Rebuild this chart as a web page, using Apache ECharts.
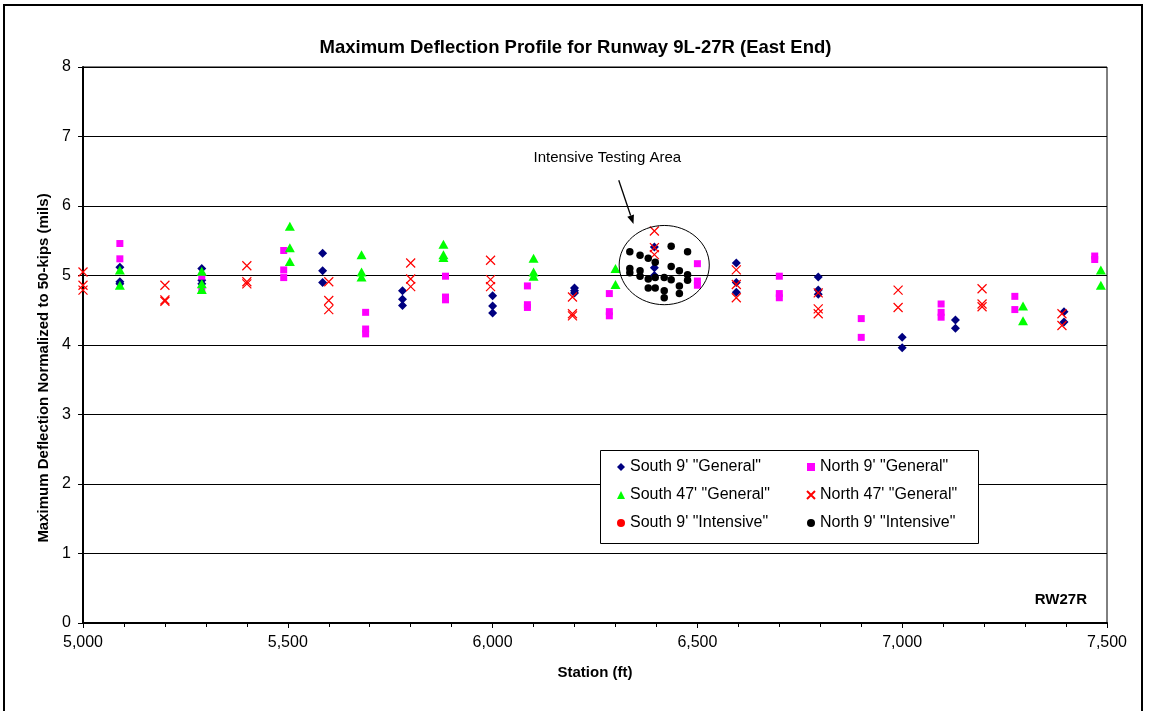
<!DOCTYPE html>
<html>
<head>
<meta charset="utf-8">
<script src="https://cdn.jsdelivr.net/npm/echarts@6/dist/echarts.min.js"></script>
<style>
html,body{margin:0;padding:0;background:#fff;}
#chart{width:1151px;height:711px;}
</style>
</head>
<body>
<div id="chart"></div>
<script>
// ---- Data (station ft, max deflection mils) ----
var xTicks = [5000, 5500, 6000, 6500, 7000, 7500];
var yTicks = [0, 1, 2, 3, 4, 5, 6, 7, 8];

var south9General = [
  [5090,5.12],[5090,4.91],[5090,4.88],
  [5290,5.10],[5290,4.93],[5290,4.88],
  [5585,5.32],[5585,5.07],[5585,4.90],
  [5780,4.78],[5780,4.66],[5780,4.57],
  [6000,4.71],[6000,4.56],[6000,4.46],
  [6200,4.82],[6200,4.78],[6200,4.75],
  [6395,5.41],[6395,5.11],[6395,5.00],
  [6595,5.18],[6595,4.90],[6595,4.76],
  [6795,4.98],[6795,4.79],[6795,4.73],
  [7000,4.11],[7000,3.96],
  [7130,4.36],[7130,4.24],
  [7395,4.48],[7395,4.33]
];
var north9General = [
  [5090,5.46],[5090,5.24],
  [5290,4.99],[5290,4.79],
  [5490,5.36],[5490,5.08],[5490,4.97],
  [5690,4.47],[5690,4.23],[5690,4.16],
  [5885,4.99],[5885,4.69],[5885,4.65],
  [6085,4.85],[6085,4.58],[6085,4.54],
  [6285,4.74],[6285,4.48],[6285,4.42],
  [6500,5.17],[6500,4.92],[6500,4.86],
  [6700,4.99],[6700,4.74],[6700,4.68],
  [6900,4.38],[6900,4.11],
  [7095,4.59],[7095,4.47],[7095,4.40],
  [7275,4.70],[7275,4.51],
  [7470,5.28],[7470,5.23]
];
var south47General = [
  [5090,5.08],[5090,4.86],
  [5290,5.06],[5290,4.88],[5290,4.80],
  [5505,5.71],[5505,5.40],[5505,5.20],
  [5680,5.30],[5680,5.05],[5680,4.98],
  [5880,5.45],[5880,5.30],[5880,5.26],
  [6100,5.25],[6100,5.05],[6100,4.99],
  [6300,5.10],[6300,4.87],
  [7295,4.56],[7295,4.35],
  [7485,5.08],[7485,4.86]
];
var north47General = [
  [5000,5.05],[5000,4.86],[5000,4.79],
  [5200,4.86],[5200,4.65],[5200,4.63],
  [5400,5.14],[5400,4.91],[5400,4.88],
  [5600,4.91],[5600,4.64],[5600,4.51],
  [5800,5.18],[5800,4.95],[5800,4.84],
  [5995,5.22],[5995,4.94],[5995,4.84],
  [6195,4.69],[6195,4.45],[6195,4.42],
  [6395,5.64],[6395,5.40],[6395,5.30],
  [6595,5.08],[6595,4.87],[6595,4.68],
  [6795,4.75],[6795,4.52],[6795,4.45],
  [6990,4.79],[6990,4.54],
  [7195,4.81],[7195,4.59],[7195,4.55],
  [7390,4.45],[7390,4.28]
];
var south9Intensive = [];
var north9Intensive = [
  [6335,5.34],[6360,5.29],[6380,5.25],[6397,5.19],
  [6335,5.10],[6335,5.04],[6360,5.07],[6360,4.99],
  [6380,4.95],[6397,4.97],[6380,4.82],[6397,4.82],
  [6419,4.97],[6419,4.78],[6419,4.68],
  [6436,5.42],[6436,5.13],[6436,4.94],
  [6456,5.07],[6456,4.85],[6456,4.74],
  [6476,5.34],[6476,5.01],[6476,4.93]
];

// annotation anchors in data units
var annotText = 'Intensive Testing Area';
var annotTextPos = [6280, 6.69];
var arrowFrom = [6308, 6.37];
var arrowTo = [6344, 5.74];
var ellipseCenter = [6419, 5.15];
var ellipseEdge = [6529, 5.72];
var yTitle = 'Maximum Deflection Normalized to 50-kips (mils)';

var FONT = '"Liberation Sans", Arial, sans-serif';
var crossPath = 'path://M0,0L10,10M10,0L0,10';

var chart = echarts.init(document.getElementById('chart'));

var legendCommon = {
  orient: 'vertical',
  itemWidth: 8,
  itemHeight: 8,
  itemGap: 12,
  textStyle: { fontFamily: FONT, fontSize: 16, color: '#000', padding: [0, 0, 0, 0] },
  selectedMode: false,
  z: 10
};

var option = {
  animation: false,
  backgroundColor: '#fff',
  title: {
    text: 'Maximum Deflection Profile for Runway 9L-27R (East End)',
    left: 'center',
    top: 33,
    textStyle: { fontFamily: FONT, fontSize: 18.5, fontWeight: 'bold', color: '#000' }
  },
  grid: { left: 83, right: 44, top: 67, bottom: 88, show: true, borderColor: '#000', borderWidth: 1 },
  legend: [
    Object.assign({}, legendCommon, {
      left: 612, top: 454,
      data: ['South 9\' "General"', 'South 47\' "General"', 'South 9\' "Intensive"']
    }),
    Object.assign({}, legendCommon, {
      left: 801, top: 454,
      data: ['North 9\' "General"', 'North 47\' "General"', 'North 9\' "Intensive"']
    })
  ],
  xAxis: {
    type: 'value',
    min: xTicks[0], max: xTicks[xTicks.length - 1], interval: 500,
    name: 'Station (ft)',
    nameLocation: 'middle',
    nameGap: 42,
    nameTextStyle: { fontFamily: FONT, fontSize: 15, fontWeight: 'bold', color: '#000' },
    axisLine: { lineStyle: { color: '#000', width: 2 } },
    axisTick: { show: true, length: 5, lineStyle: { color: '#000' } },
    minorTick: { show: true, splitNumber: 5, length: 4, lineStyle: { color: '#000' } },
    splitLine: { show: false },
    axisLabel: {
      margin: 12, fontFamily: FONT, fontSize: 16, color: '#000',
      formatter: function (v) { return v.toLocaleString('en-US'); }
    }
  },
  yAxis: {
    type: 'value',
    min: yTicks[0], max: yTicks[yTicks.length - 1], interval: 1,
    axisLine: { show: true, lineStyle: { color: '#000', width: 2 } },
    axisTick: { show: true, length: 5, lineStyle: { color: '#000' } },
    splitLine: { show: true, lineStyle: { color: '#000', width: 1 } },
    axisLabel: { margin: 12, fontFamily: FONT, fontSize: 16, color: '#000' }
  },
  series: [
    { name: 'South 9\' "General"', type: 'scatter', data: south9General,
      symbol: 'diamond', symbolSize: 9, itemStyle: { color: '#000080', opacity: 1 }, z: 3 },
    { name: 'North 9\' "General"', type: 'scatter', data: north9General,
      symbol: 'rect', symbolSize: 7, itemStyle: { color: '#FF00FF', opacity: 1 }, z: 3 },
    { name: 'South 47\' "General"', type: 'scatter', data: south47General,
      symbol: 'triangle', symbolSize: [10, 9], itemStyle: { color: '#00FF00', opacity: 1 }, z: 3 },
    { name: 'North 47\' "General"', type: 'scatter', data: north47General,
      symbol: crossPath, symbolSize: 9,
      itemStyle: { color: 'rgba(0,0,0,0)', borderColor: '#FF0000', borderWidth: 1.2, opacity: 1 }, z: 4 },
    { name: 'South 9\' "Intensive"', type: 'scatter', data: south9Intensive,
      symbol: 'circle', symbolSize: 7, itemStyle: { color: '#FF0000', opacity: 1 }, z: 4 },
    { name: 'North 9\' "Intensive"', type: 'scatter', data: north9Intensive,
      symbol: 'circle', symbolSize: 7.5, itemStyle: { color: '#000000', opacity: 1 }, z: 5 }
  ]
};
chart.setOption(option);

function px(p) { return chart.convertToPixel({ gridIndex: 0 }, p); }
var c = px(ellipseCenter), e = px(ellipseEdge);
var a0 = px(arrowFrom), a1 = px(arrowTo), t = px(annotTextPos);
var rb = px([7500, 0]);
var dx = a1[0] - a0[0], dy = a1[1] - a0[1], L = Math.sqrt(dx * dx + dy * dy);
var ux = dx / L, uy = dy / L, hl = 9, hw = 3.5;
var base = [a1[0] - ux * hl, a1[1] - uy * hl];

chart.setOption({
  graphic: [
    { type: 'polyline', z: 1, shape: { points: [[4, 720], [4, 5], [1142, 5], [1142, 720]] },
      style: { stroke: '#000', lineWidth: 2, fill: null }, silent: true },
    { type: 'rect', z: 8, shape: { x: 600.5, y: 450.5, width: 378, height: 93 },
      style: { fill: '#fff', stroke: '#000', lineWidth: 1 }, silent: true },
    { type: 'ellipse', z: 6, shape: { cx: c[0], cy: c[1], rx: e[0] - c[0], ry: c[1] - e[1] },
      style: { fill: null, stroke: '#000', lineWidth: 1 }, silent: true },
    { type: 'line', z: 6, shape: { x1: a0[0], y1: a0[1], x2: base[0], y2: base[1] },
      style: { stroke: '#000', lineWidth: 1.3 }, silent: true },
    { type: 'polygon', z: 6, shape: { points: [a1,
        [base[0] - uy * hw, base[1] + ux * hw], [base[0] + uy * hw, base[1] - ux * hw]] },
      style: { fill: '#000' }, silent: true },
    { type: 'text', z: 6, x: t[0], y: t[1],
      style: { text: annotText, font: '15px ' + FONT, fill: '#000', textAlign: 'center', textVerticalAlign: 'middle' }, silent: true },
    { type: 'text', z: 6, x: rb[0] - 20, y: rb[1] - 23,
      style: { text: 'RW27R', font: 'bold 15px ' + FONT, fill: '#000', textAlign: 'right', textVerticalAlign: 'middle' }, silent: true },
    { type: 'text', z: 6, x: 44, y: 368, rotation: Math.PI / 2,
      style: { text: yTitle, font: 'bold 15px ' + FONT, fill: '#000', textAlign: 'center', textVerticalAlign: 'middle' }, silent: true }
  ]
});
</script>
</body>
</html>
